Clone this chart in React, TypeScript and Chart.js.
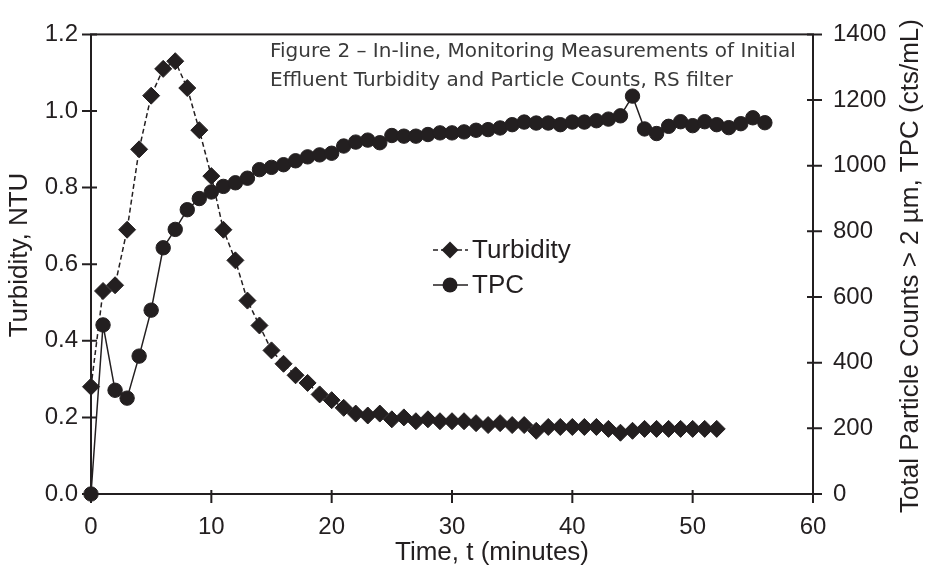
import React, { useEffect, useRef } from 'react';
import { Chart, registerables } from 'chart.js';

Chart.register(...registerables);

// ---- data ----
const turbidityTime = [
  0, 1, 2, 3, 4, 5, 6, 7, 8, 9, 10, 11, 12, 13, 14, 15, 16, 17, 18, 19, 20,
  21, 22, 23, 24, 25, 26, 27, 28, 29, 30, 31, 32, 33, 34, 35, 36, 37, 38, 39,
  40, 41, 42, 43, 44, 45, 46, 47, 48, 49, 50, 51, 52,
];
const turbidityNTU = [
  0.28, 0.53, 0.545, 0.69, 0.9, 1.04, 1.11, 1.13, 1.06, 0.95, 0.83, 0.69, 0.61,
  0.505, 0.44, 0.375, 0.34, 0.31, 0.29, 0.26, 0.245, 0.225, 0.21, 0.205, 0.21,
  0.195, 0.2, 0.19, 0.195, 0.19, 0.19, 0.19, 0.185, 0.18, 0.185, 0.18, 0.18,
  0.165, 0.175, 0.175, 0.175, 0.175, 0.175, 0.17, 0.16, 0.165, 0.17, 0.17,
  0.17, 0.17, 0.17, 0.17, 0.17,
];
const tpcTime = [
  0, 1, 2, 3, 4, 5, 6, 7, 8, 9, 10, 11, 12, 13, 14, 15, 16, 17, 18, 19, 20,
  21, 22, 23, 24, 25, 26, 27, 28, 29, 30, 31, 32, 33, 34, 35, 36, 37, 38, 39,
  40, 41, 42, 43, 44, 45, 46, 47, 48, 49, 50, 51, 52, 53, 54, 55, 56,
];
const tpcCounts = [
  0, 515, 316, 292, 420, 560, 750, 806, 866, 900, 920, 937, 948, 962, 988, 995,
  1003, 1015, 1027, 1033, 1038, 1060, 1072, 1078, 1070, 1092, 1090, 1090, 1095,
  1100, 1100, 1103, 1108, 1110, 1115, 1125, 1133, 1130, 1130, 1125, 1133, 1133,
  1137, 1142, 1152, 1212, 1112, 1098, 1120, 1134, 1122, 1134, 1125, 1116, 1128,
  1146, 1131,
];
const xTicks = [0, 10, 20, 30, 40, 50, 60];
const leftTicks = [0, 0.2, 0.4, 0.6, 0.8, 1.0, 1.2];
const rightTicks = [0, 200, 400, 600, 800, 1000, 1200, 1400];

const xTitle = 'Time, t (minutes)';
const leftTitle = 'Turbidity, NTU';
const rightTitle = 'Total Particle Counts > 2 \u00B5m, TPC (cts/mL)';
const noteLines = [
  'Figure 2 \u2013 In-line, Monitoring Measurements of Initial',
  'Effluent Turbidity and Particle Counts, RS filter',
];
const seriesNames = ['Turbidity', 'TPC'];

// ---- style ----
const ink = '#231f20';
const sans = "'Liberation Sans', Arial, Helvetica, sans-serif";

function drawDiamond(ctx: CanvasRenderingContext2D, x: number, y: number, r: number) {
  ctx.beginPath();
  ctx.moveTo(x, y - r);
  ctx.lineTo(x + r, y);
  ctx.lineTo(x, y + r);
  ctx.lineTo(x - r, y);
  ctx.closePath();
  ctx.fill();
}
function drawCircle(ctx: CanvasRenderingContext2D, x: number, y: number, r: number) {
  ctx.beginPath();
  ctx.arc(x, y, r, 0, Math.PI * 2);
  ctx.fill();
}

const decorPlugin = {
  id: 'decor',
  afterDraw(chart: any) {
    const { ctx, chartArea: a, scales } = chart;
    ctx.save();
    ctx.strokeStyle = ink;
    ctx.fillStyle = ink;
    ctx.lineWidth = 2;
    ctx.setLineDash([]);
    ctx.strokeRect(a.left, a.top, a.right - a.left, a.bottom - a.top);

    // tick marks
    ctx.beginPath();
    scales.x.ticks.forEach((t: any) => {
      const px = scales.x.getPixelForValue(t.value);
      ctx.moveTo(px, a.bottom - 4);
      ctx.lineTo(px, a.bottom + 9);
    });
    scales.y.ticks.forEach((t: any) => {
      const py = scales.y.getPixelForValue(t.value);
      ctx.moveTo(a.left - 9, py);
      ctx.lineTo(a.left + 6, py);
    });
    scales.y1.ticks.forEach((t: any) => {
      const py = scales.y1.getPixelForValue(t.value);
      ctx.moveTo(a.right - 6, py);
      ctx.lineTo(a.right + 9, py);
    });
    ctx.stroke();

    // axis titles
    ctx.font = `26px ${sans}`;
    ctx.textAlign = 'center';
    ctx.textBaseline = 'middle';
    ctx.fillText(xTitle, 492, 553);
    ctx.save();
    ctx.translate(20, 255);
    ctx.rotate(-Math.PI / 2);
    ctx.fillText(leftTitle, 0, 0);
    ctx.restore();
    ctx.save();
    ctx.translate(911, 266);
    ctx.rotate(-Math.PI / 2);
    ctx.fillText(rightTitle, 0, 0);
    ctx.restore();

    // note text
    ctx.fillStyle = '#3a3a3a';
    ctx.font = `20px 'DejaVu Sans', sans-serif`;
    ctx.textAlign = 'left';
    ctx.fillText(noteLines[0], 270, 52);
    ctx.fillText(noteLines[1], 270, 81);

    // legend
    ctx.fillStyle = ink;
    ctx.lineWidth = 1.5;
    const lx0 = 433, lx1 = 468, mx = 450;
    const ly = [250, 285];
    ctx.setLineDash([5, 3]);
    ctx.beginPath();
    ctx.moveTo(lx0, ly[0]);
    ctx.lineTo(lx1, ly[0]);
    ctx.stroke();
    ctx.setLineDash([]);
    ctx.beginPath();
    ctx.moveTo(lx0, ly[1]);
    ctx.lineTo(lx1, ly[1]);
    ctx.stroke();
    drawDiamond(ctx, mx, ly[0], 8.5);
    drawCircle(ctx, mx, ly[1], 7.5);
    ctx.font = `26px ${sans}`;
    ctx.textAlign = 'left';
    ctx.textBaseline = 'middle';
    ctx.fillText(seriesNames[0], 472, ly[0] + 1);
    ctx.fillText(seriesNames[1], 472, ly[1] + 1);
    ctx.restore();
  },
};

export default function App() {
  const ref = useRef<HTMLCanvasElement | null>(null);

  useEffect(() => {
    document.body.style.margin = '0';
    const canvas = ref.current;
    if (!canvas) return;
    const chart = new Chart(canvas, {
      type: 'line',
      data: {
        datasets: [
          {
            label: seriesNames[0],
            data: turbidityTime.map((t, i) => ({ x: t, y: turbidityNTU[i] })),
            yAxisID: 'y',
            clip: false,
            borderColor: ink,
            backgroundColor: ink,
            borderWidth: 1.5,
            borderDash: [5, 3],
            pointStyle: 'rectRot',
            pointRadius: 8.5,
            pointBorderWidth: 1,
            pointBackgroundColor: ink,
            pointBorderColor: ink,
            tension: 0,
          },
          {
            label: seriesNames[1],
            data: tpcTime.map((t, i) => ({ x: t, y: tpcCounts[i] })),
            yAxisID: 'y1',
            clip: false,
            borderColor: ink,
            backgroundColor: ink,
            borderWidth: 1.5,
            pointStyle: 'circle',
            pointRadius: 7.2,
            pointBorderWidth: 1,
            pointBackgroundColor: ink,
            pointBorderColor: ink,
            tension: 0,
          },
        ],
      },
      options: {
        responsive: false,
        animation: false,
        layout: { padding: { top: 25, left: 0, right: 0, bottom: 0 } },
        plugins: {
          legend: { display: false },
          tooltip: { enabled: false },
          title: { display: false },
        },
        scales: {
          x: {
            type: 'linear',
            min: 0,
            max: 60,
            afterBuildTicks: (s: any) => {
              s.ticks = xTicks.map((v) => ({ value: v }));
            },
            afterFit: (s: any) => {
              s.height = 74;
            },
            grid: { display: false, drawTicks: false },
            border: { display: false },
            ticks: { color: ink, font: { family: sans, size: 24 }, padding: 19, maxRotation: 0 },
          },
          y: {
            type: 'linear',
            position: 'left',
            min: 0,
            max: 1.2,
            afterBuildTicks: (s: any) => {
              s.ticks = leftTicks.map((v) => ({ value: v }));
            },
            afterFit: (s: any) => {
              s.width = 91;
            },
            grid: { display: false, drawTicks: false },
            border: { display: false },
            ticks: {
              color: ink,
              font: { family: sans, size: 24 },
              padding: 13,
              callback: (v: any) => Number(v).toFixed(1),
            },
          },
          y1: {
            type: 'linear',
            position: 'right',
            min: 0,
            max: 1400,
            afterBuildTicks: (s: any) => {
              s.ticks = rightTicks.map((v) => ({ value: v }));
            },
            afterFit: (s: any) => {
              s.width = 114;
            },
            grid: { display: false, drawTicks: false },
            border: { display: false },
            ticks: {
              color: ink,
              font: { family: sans, size: 24 },
              padding: 20,
              callback: (v: any) => String(v),
            },
          },
        },
      },
      plugins: [decorPlugin],
    });
    return () => chart.destroy();
  }, []);

  return (
    <div style={{ width: 927, height: 568, background: '#fff' }}>
      <canvas ref={ref} width={927} height={568} />
    </div>
  );
}
